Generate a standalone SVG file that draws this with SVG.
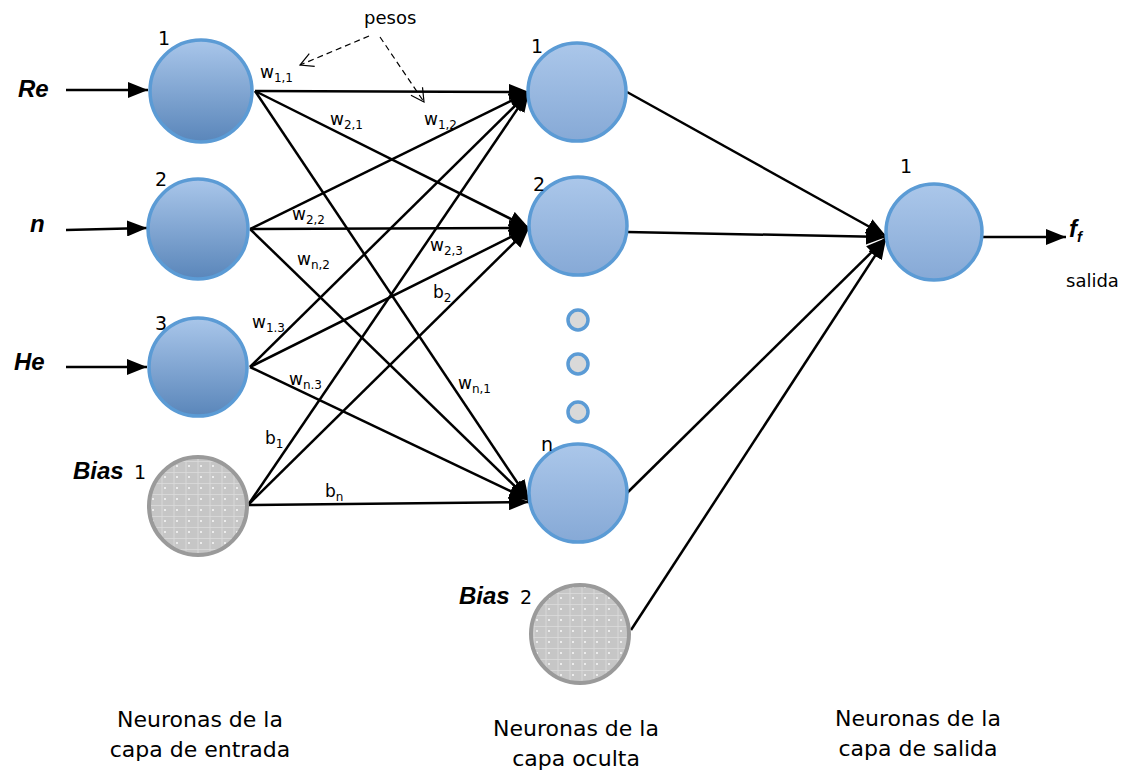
<svg xmlns="http://www.w3.org/2000/svg" width="1132" height="773" viewBox="0 0 1132 773">
<style>
.lbl{font-family:"DejaVu Sans","Liberation Sans",sans-serif;fill:#000}
.w{font-size:17px}
.sub{font-size:12px}
.bi{font-family:"Liberation Sans",Arial,sans-serif;font-weight:bold;font-style:italic;font-size:24px}
.num{font-size:19px}
.cap{font-size:22px;text-anchor:middle}
.edge{stroke:#000;stroke-width:2.5;fill:none}
.nin{fill:url(#gIn);stroke:#5b9bd5;stroke-width:3.5}
.nhid{fill:url(#gHid);stroke:#5b9bd5;stroke-width:3.5}
.nbias{fill:url(#pBias);stroke:#9a9a9a;stroke-width:4}
.dot{fill:#d9d9d9;stroke:#5b9bd5;stroke-width:3.5}
.dash{stroke:#000;stroke-width:1.2;stroke-dasharray:6 4;fill:none}
</style>
<defs>
<linearGradient id="gIn" x1="0" y1="0" x2="0" y2="1">
<stop offset="0" stop-color="#a9c6ea"/><stop offset="1" stop-color="#5a86ba"/>
</linearGradient>
<linearGradient id="gHid" x1="0" y1="0" x2="0" y2="1">
<stop offset="0" stop-color="#abc7ea"/><stop offset="1" stop-color="#86a9d6"/>
</linearGradient>
<pattern id="pBias" width="12" height="11" patternUnits="userSpaceOnUse">
<rect width="12" height="11" fill="#c6c6c6"/>
<path d="M0 10.5H12M6 0V11" stroke="#dcdcdc" stroke-width="0.8"/>
<rect x="8" y="3" width="2" height="2" fill="#ececec"/>
</pattern>
<marker id="ah" markerWidth="20" markerHeight="16" refX="20" refY="8" orient="auto" markerUnits="userSpaceOnUse">
<path d="M0 0L20 8L0 16z" fill="#000"/>
</marker>
<marker id="oh" markerWidth="16" markerHeight="16" refX="14" refY="8" orient="auto" markerUnits="userSpaceOnUse">
<path d="M1 1L14 8L1 15" fill="none" stroke="#000" stroke-width="1.2"/>
</marker>
</defs>
<rect width="1132" height="773" fill="#fff"/>

<g id="connectors">
<line class="edge" x1="66" y1="90" x2="148" y2="90" marker-end="url(#ah)"/>
<line class="edge" x1="66" y1="230" x2="147" y2="228" marker-end="url(#ah)"/>
<line class="edge" x1="66" y1="367" x2="147" y2="367" marker-end="url(#ah)"/>
<line class="edge" x1="255" y1="91" x2="529" y2="92" marker-end="url(#ah)"/>
<line class="edge" x1="255" y1="91" x2="529" y2="228" marker-end="url(#ah)"/>
<line class="edge" x1="255" y1="91" x2="529" y2="500" marker-end="url(#ah)"/>
<line class="edge" x1="250" y1="229" x2="529" y2="92" marker-end="url(#ah)"/>
<line class="edge" x1="250" y1="229" x2="529" y2="228" marker-end="url(#ah)"/>
<line class="edge" x1="250" y1="229" x2="529" y2="500" marker-end="url(#ah)"/>
<line class="edge" x1="250" y1="367" x2="529" y2="92" marker-end="url(#ah)"/>
<line class="edge" x1="250" y1="367" x2="529" y2="228" marker-end="url(#ah)"/>
<line class="edge" x1="250" y1="367" x2="529" y2="500" marker-end="url(#ah)"/>
<line class="edge" x1="248" y1="505" x2="529" y2="92" marker-end="url(#ah)"/>
<line class="edge" x1="248" y1="505" x2="529" y2="228" marker-end="url(#ah)"/>
<line class="edge" x1="248" y1="505" x2="529" y2="502" marker-end="url(#ah)"/>
<line class="edge" x1="627" y1="92" x2="886" y2="236" marker-end="url(#ah)"/>
<line class="edge" x1="627" y1="232" x2="886" y2="237" marker-end="url(#ah)"/>
<line class="edge" x1="627" y1="493" x2="886" y2="238" marker-end="url(#ah)"/>
<line class="edge" x1="631" y1="630" x2="886" y2="239" marker-end="url(#ah)"/>
<line class="edge" x1="983" y1="237" x2="1066" y2="237" marker-end="url(#ah)"/>
<line class="dash" x1="369" y1="36" x2="300" y2="65" marker-end="url(#oh)"/>
<line class="dash" x1="380" y1="37" x2="424" y2="102" marker-end="url(#oh)"/>
</g>

<g id="in1"><circle class="nin" cx="201" cy="91" r="51"/><text class="lbl num" x="158" y="45">1</text></g>
<g id="in2"><circle class="nin" cx="198" cy="229" r="50"/><text class="lbl num" x="155" y="186">2</text></g>
<g id="in3"><circle class="nin" cx="198" cy="367" r="49"/><text class="lbl num" x="155" y="330">3</text></g>
<g id="bias1"><circle class="nbias" cx="198" cy="506" r="49"/><text class="lbl bi" x="73" y="479">Bias</text><text class="lbl num" x="134" y="479">1</text></g>

<g id="h1"><circle class="nhid" cx="577" cy="92" r="49"/><text class="lbl num" x="531" y="53">1</text></g>
<g id="h2"><circle class="nhid" cx="578" cy="226" r="49"/><text class="lbl num" x="533" y="191">2</text></g>
<g id="dots"><circle class="dot" cx="578" cy="320" r="10"/><circle class="dot" cx="578" cy="364" r="10"/><circle class="dot" cx="578" cy="412" r="10"/></g>
<g id="hn"><circle class="nhid" cx="578" cy="493" r="49"/><text class="lbl num" x="541" y="451">n</text></g>
<g id="bias2"><circle class="nbias" cx="580" cy="634" r="49"/><text class="lbl bi" x="459" y="604">Bias</text><text class="lbl num" x="520" y="604">2</text></g>

<g id="out"><circle class="nhid" cx="934" cy="232" r="48"/><text class="lbl num" x="900" y="173">1</text></g>

<g id="labels">
<text class="lbl bi" x="18" y="97">Re</text>
<text class="lbl bi" x="30" y="232">n</text>
<text class="lbl bi" x="14" y="370">He</text>
<text class="lbl bi" x="1069" y="237">f<tspan font-size="15" dy="5">f</tspan></text>
<text class="lbl" x="1066" y="287" font-size="18">salida</text>
<text class="lbl" x="364" y="24" font-size="18">pesos</text>
<text class="lbl w" x="260" y="78">w<tspan class="sub" dy="4">1,1</tspan></text>
<text class="lbl w" x="330" y="125">w<tspan class="sub" dy="4">2,1</tspan></text>
<text class="lbl w" x="424" y="125">w<tspan class="sub" dy="4">1,2</tspan></text>
<text class="lbl w" x="292" y="220">w<tspan class="sub" dy="4">2,2</tspan></text>
<text class="lbl w" x="297" y="265">w<tspan class="sub" dy="4">n,2</tspan></text>
<text class="lbl w" x="430" y="251">w<tspan class="sub" dy="4">2,3</tspan></text>
<text class="lbl w" x="433" y="298">b<tspan class="sub" dy="4">2</tspan></text>
<text class="lbl w" x="252" y="328">w<tspan class="sub" dy="4">1.3</tspan></text>
<text class="lbl w" x="289" y="385">w<tspan class="sub" dy="4">n.3</tspan></text>
<text class="lbl w" x="458" y="389">w<tspan class="sub" dy="4">n,1</tspan></text>
<text class="lbl w" x="265" y="444">b<tspan class="sub" dy="4">1</tspan></text>
<text class="lbl w" x="325" y="497">b<tspan class="sub" dy="4">n</tspan></text>
<text class="lbl cap" x="200" y="727">Neuronas de la</text>
<text class="lbl cap" x="200" y="757">capa de entrada</text>
<text class="lbl cap" x="576" y="736">Neuronas de la</text>
<text class="lbl cap" x="576" y="766">capa oculta</text>
<text class="lbl cap" x="918" y="726">Neuronas de la</text>
<text class="lbl cap" x="918" y="756">capa de salida</text>
</g>
</svg>
